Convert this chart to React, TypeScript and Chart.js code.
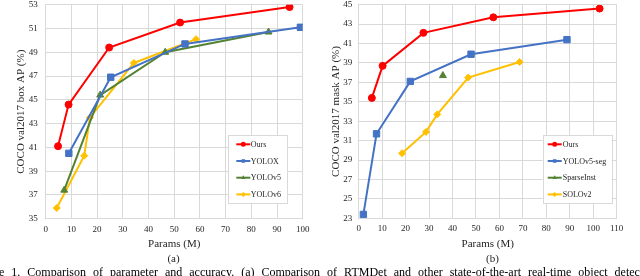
import React, { useEffect, useRef } from "react";
import { Chart, registerables } from "chart.js";

Chart.register(...registerables);

// ---------- Data: (a) box AP ----------
const oursBoxParams = [4.8, 8.9, 24.7, 52.3, 94.9];
const oursBoxAP = [41.1, 44.6, 49.4, 51.5, 52.8];
const yoloxParams = [9.0, 25.3, 54.2, 99.1];
const yoloxAP = [40.5, 46.9, 49.7, 51.1];
const yolov5Params = [7.2, 21.2, 46.5, 86.7];
const yolov5AP = [37.4, 45.4, 49.0, 50.7];
const yolov6Params = [4.3, 15.0, 17.2, 34.3, 58.5];
const yolov6AP = [35.9, 40.3, 43.5, 48.1, 50.1];

// ---------- Data: (b) mask AP ----------
const oursMaskParams = [5.6, 10.2, 27.6, 57.4, 102.7];
const oursMaskAP = [35.4, 38.7, 42.1, 43.7, 44.6];
const yolov5segParams = [2.0, 7.6, 22.0, 47.9, 88.8];
const yolov5segAP = [23.4, 31.7, 37.1, 39.9, 41.4];
const sparseInstParams = [35.9];
const sparseInstAP = [37.7];
const solov2Params = [18.5, 28.7, 33.5, 46.7, 68.6];
const solov2AP = [29.7, 31.9, 33.7, 37.5, 39.1];

// ---------- Labels ----------
const labelsA = ["Ours", "YOLOX", "YOLOv5", "YOLOv6"];
const labelsB = ["Ours", "YOLOv5-seg", "SparseInst", "SOLOv2"];
const xTitle = "Params (M)";
const yTitleA = "COCO val2017 box AP (%)";
const yTitleB = "COCO val2017 mask AP (%)";
const captionText =
  "Figure 1. Comparison of parameter and accuracy. (a) Comparison of RTMDet and other state-of-the-art real-time object detectors.";

const RED = "#FF0000";
const BLUE = "#4472C4";
const GREEN = "#548235";
const YELLOW = "#FFC000";
const GRID = "#D9D9D9";
const TEXT = "#262626";
const FONT = "'Liberation Serif', 'Times New Roman', serif";

const zip = (xs: number[], ys: number[]) => xs.map((x, i) => ({ x, y: ys[i] }));

function drawMarker(ctx: CanvasRenderingContext2D, style: string, x: number, y: number, r: number) {
  ctx.beginPath();
  if (style === "circle") {
    ctx.arc(x, y, r, 0, Math.PI * 2);
  } else if (style === "rect") {
    const s = r * Math.SQRT1_2;
    ctx.rect(x - s, y - s, 2 * s, 2 * s);
  } else if (style === "triangle") {
    ctx.moveTo(x, y - r);
    ctx.lineTo(x + r * 0.866, y + r * 0.5);
    ctx.lineTo(x - r * 0.866, y + r * 0.5);
    ctx.closePath();
  } else {
    ctx.moveTo(x, y - r);
    ctx.lineTo(x + r, y);
    ctx.lineTo(x, y + r);
    ctx.lineTo(x - r, y);
    ctx.closePath();
  }
  ctx.fill();
}

const boxLegend = {
  id: "boxLegend",
  afterDraw(chart: any, _args: any, opts: any) {
    const ctx: CanvasRenderingContext2D = chart.ctx;
    const { x, y, w, h, lineStart, lineEnd, textX, firstY, gap } = opts;
    ctx.save();
    ctx.fillStyle = "#FFFFFF";
    ctx.fillRect(x, y, w, h);
    ctx.strokeStyle = GRID;
    ctx.lineWidth = 1;
    ctx.strokeRect(Math.round(x) + 0.5, Math.round(y) + 0.5, Math.round(w), Math.round(h));
    chart.data.datasets.forEach((ds: any, i: number) => {
      const cy = y + firstY + i * gap;
      ctx.strokeStyle = ds.borderColor;
      ctx.lineWidth = 2;
      ctx.beginPath();
      ctx.moveTo(x + lineStart, cy);
      ctx.lineTo(x + lineEnd, cy);
      ctx.stroke();
      ctx.fillStyle = ds.borderColor;
      drawMarker(ctx, ds.pointStyle, x + (lineStart + lineEnd) / 2, cy, ds.legendR);
      ctx.fillStyle = TEXT;
      ctx.font = `8px ${FONT}`;
      ctx.textBaseline = "middle";
      ctx.textAlign = "left";
      ctx.fillText(ds.label, x + textX, cy + 0.5);
    });
    ctx.restore();
  },
};

function makeDataset(label: string, color: string, style: string, r: number, xs: number[], ys: number[]) {
  return {
    label,
    data: zip(xs, ys),
    borderColor: color,
    backgroundColor: color,
    pointBackgroundColor: color,
    pointBorderColor: color,
    pointStyle: style,
    pointRadius: r,
    pointBorderWidth: 1,
    borderWidth: 2,
    showLine: true,
    tension: 0,
    legendR: 2.5,
  };
}

function makeConfig(p: {
  datasets: any[];
  xMax: number;
  yMin: number;
  yMax: number;
  yTitle: string;
  yAxisWidth: number;
  yTitlePad: number;
  yTickPad: number;
  xAxisHeight: number;
  padRight: number;
  legend: any;
}) {
  return {
    type: "line",
    data: { datasets: p.datasets },
    plugins: [boxLegend],
    options: {
      animation: false,
      responsive: false,
      maintainAspectRatio: false,
      layout: { padding: { top: 14.7, right: p.padRight, bottom: 0, left: 0 } },
      plugins: {
        legend: { display: false },
        tooltip: { enabled: false },
        boxLegend: p.legend,
      },
      scales: {
        x: {
          type: "linear",
          min: 0,
          max: p.xMax,
          ticks: { stepSize: 10, padding: 5.2, color: TEXT, font: { family: FONT, size: 9 } },
          grid: { color: GRID, lineWidth: 1, drawTicks: false },
          border: { display: true, color: GRID },
          title: {
            display: true,
            text: xTitle,
            color: TEXT,
            font: { family: FONT, size: 11 },
            padding: { top: 0, bottom: 19.6 },
          },
          afterFit(scale: any) {
            scale.height = p.xAxisHeight;
          },
        },
        y: {
          type: "linear",
          min: p.yMin,
          max: p.yMax,
          ticks: { stepSize: 2, padding: p.yTickPad, color: TEXT, font: { family: FONT, size: 9 } },
          grid: { color: GRID, lineWidth: 1, drawTicks: false },
          border: { display: true, color: GRID },
          title: {
            display: true,
            text: p.yTitle,
            color: TEXT,
            font: { family: FONT, size: 11 },
            padding: { top: p.yTitlePad, bottom: 0 },
          },
          afterFit(scale: any) {
            scale.width = p.yAxisWidth;
          },
        },
      },
    },
  };
}

function ChartCanvas({ config, left }: { config: any; left: number }) {
  const ref = useRef<HTMLCanvasElement | null>(null);
  useEffect(() => {
    if (!ref.current) return;
    const chart = new Chart(ref.current, config);
    return () => chart.destroy();
  }, [config]);
  return (
    <canvas
      ref={ref}
      width={320}
      height={280}
      style={{ position: "absolute", left, top: -10, width: 320, height: 280 }}
    />
  );
}

const configA = makeConfig({
  datasets: [
    makeDataset(labelsA[0], RED, "circle", 3.5, oursBoxParams, oursBoxAP),
    makeDataset(labelsA[1], BLUE, "rect", 4.5, yoloxParams, yoloxAP),
    makeDataset(labelsA[2], GREEN, "triangle", 4, yolov5Params, yolov5AP),
    makeDataset(labelsA[3], YELLOW, "rectRot", 3.5, yolov6Params, yolov6AP),
  ],
  xMax: 100,
  yMin: 35,
  yMax: 53,
  yTitle: yTitleA,
  yAxisWidth: 45.7,
  yTitlePad: 14.4,
  yTickPad: 8,
  xAxisHeight: 51.3,
  padRight: 17.3,
  legend: { x: 228.3, y: 145, w: 59, h: 67.7, lineStart: 8, lineEnd: 22, textX: 22.5, firstY: 9.3, gap: 16.7 },
});

const configB = makeConfig({
  datasets: [
    makeDataset(labelsB[0], RED, "circle", 3.5, oursMaskParams, oursMaskAP),
    makeDataset(labelsB[1], BLUE, "rect", 4.5, yolov5segParams, yolov5segAP),
    makeDataset(labelsB[2], GREEN, "triangle", 4, sparseInstParams, sparseInstAP),
    makeDataset(labelsB[3], YELLOW, "rectRot", 3.5, solov2Params, solov2AP),
  ],
  xMax: 110,
  yMin: 23,
  yMax: 45,
  yTitle: yTitleB,
  yAxisWidth: 38.7,
  yTitlePad: 9.4,
  yTickPad: 6.5,
  xAxisHeight: 51.7,
  padRight: 23.3,
  legend: { x: 222.7, y: 145, w: 69, h: 67.7, lineStart: 5, lineEnd: 19, textX: 20, firstY: 9.3, gap: 16.7 },
});

export default function App() {
  useEffect(() => {
    document.body.style.margin = "0";
    document.body.style.background = "#FFFFFF";
  }, []);
  const sub: React.CSSProperties = {
    position: "absolute",
    top: 257.7,
    transform: "translate(-50%, -50%)",
    fontFamily: FONT,
    fontSize: 11,
    lineHeight: 1,
    color: TEXT,
    whiteSpace: "nowrap",
  };
  return (
    <div
      style={{
        position: "fixed",
        left: 0,
        top: 0,
        width: 640,
        height: 276,
        overflow: "hidden",
        background: "#FFFFFF",
      }}
    >
      <ChartCanvas config={configA} left={0} />
      <ChartCanvas config={configB} left={320} />
      <div style={{ ...sub, left: 173.5 }}>(a)</div>
      <div style={{ ...sub, left: 492.5 }}>(b)</div>
      <div
        style={{
          position: "absolute",
          left: -27,
          top: 265,
          fontFamily: FONT,
          fontSize: 12,
          lineHeight: "14px",
          wordSpacing: 4,
          color: "#000000",
          whiteSpace: "nowrap",
        }}
      >
        {captionText}
      </div>
    </div>
  );
}
